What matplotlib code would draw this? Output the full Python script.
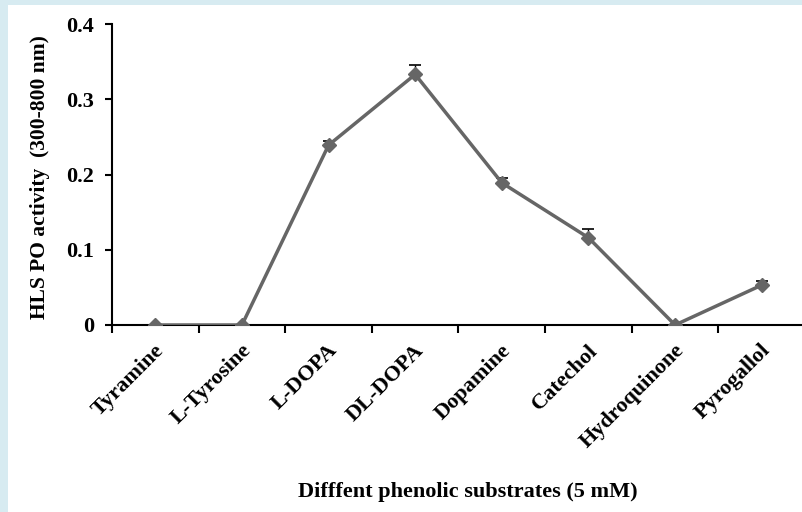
import matplotlib
matplotlib.use("Agg")
import matplotlib.pyplot as plt
from matplotlib.patches import Rectangle
import numpy as np

substrates = ["Tyramine", "L-Tyrosine", "L-DOPA", "DL-DOPA", "Dopamine",
              "Catechol", "Hydroquinone", "Pyrogallol"]
activity = [0.0, 0.0, 0.239, 0.333, 0.189, 0.116, 0.0, 0.053]
activity_err = [0.0, 0.0, 0.006, 0.012, 0.006, 0.011, 0.0, 0.006]
y_ticks = [0, 0.1, 0.2, 0.3, 0.4]

plt.rcParams["font.family"] = ["Liberation Serif", "DejaVu Serif"]
plt.rcParams["font.weight"] = "bold"

W, H = 803, 512
fig = plt.figure(figsize=(W / 100, H / 100), dpi=100)
fig.patch.set_facecolor("#d7ebf1")
# white page area, leaving the light blue strip on the left and top
fig.add_artist(Rectangle((8 / W, 0), 1, 1 - 5 / H, transform=fig.transFigure,
                         facecolor="white", edgecolor="none", zorder=0))

ax = fig.add_axes([112 / W, 1 - 325 / H, (805 - 112) / W, (325 - 24) / H])
ax.set_facecolor("none")

x = np.arange(len(substrates)) + 0.5
ax.errorbar(x, activity, yerr=[np.zeros(len(activity)), activity_err],
            color="#666666", lw=2.5, marker="D", ms=7.5, ecolor="black",
            elinewidth=1, capsize=4, capthick=1.2, zorder=3)

ax.set_xlim(0, len(substrates))
ax.set_ylim(0, 0.4)
ax.set_xticks(np.arange(len(substrates) + 1))
ax.set_xticklabels([])
ax.set_yticks(y_ticks)
ax.set_yticklabels([f"{v:g}" for v in y_ticks], fontsize=16, fontweight="bold")
ax.tick_params(axis="y", direction="out", length=5, width=1.5, pad=8)
ax.tick_params(axis="x", direction="out", length=6, width=1.5)

for name, xi in zip(substrates, x):
    ax.text(xi + 0.07, -0.03, name, rotation=45, rotation_mode="anchor",
            ha="right", va="center", fontsize=16, fontweight="bold",
            transform=ax.transData, clip_on=False)

for side in ["top", "right"]:
    ax.spines[side].set_visible(False)
ax.spines["left"].set_linewidth(1.5)
ax.spines["bottom"].set_linewidth(1.5)

fig.text(40 / W, 1 - 177 / H, "HLS PO activity  (300-800 nm)", rotation=90,
         ha="center", va="center", fontsize=15.5, fontweight="bold")
fig.text(468 / W, 1 - 492 / H, "Difffent phenolic substrates (5 mM)",
         ha="center", va="center", fontsize=16, fontweight="bold")

fig.savefig("out.png", dpi=100, facecolor=fig.get_facecolor())
